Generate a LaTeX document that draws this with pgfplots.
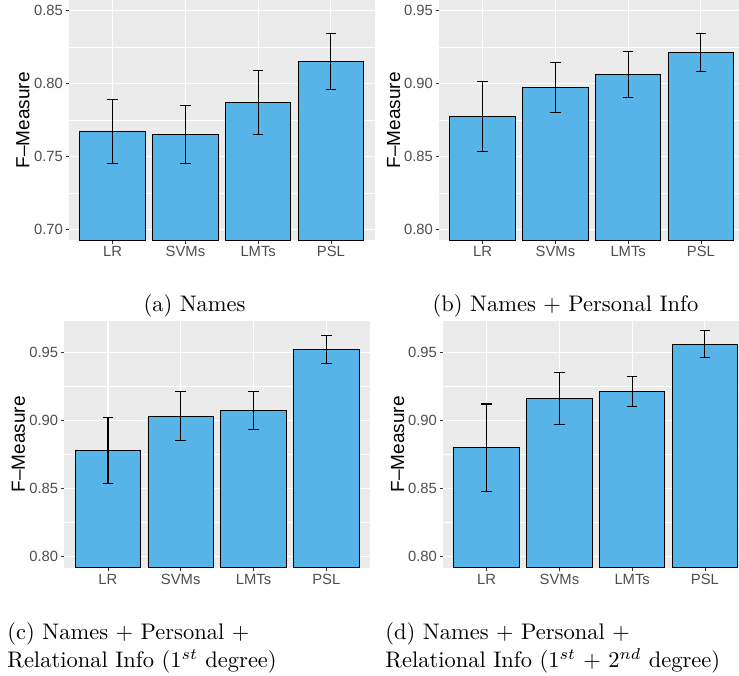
\documentclass[border=0pt]{standalone}
\usepackage{pgfplots}
\pgfplotsset{compat=1.18}
\usepackage{fontspec}
\newfontfamily\arial{Liberation Sans}
\definecolor{ggbg}{HTML}{EBEBEB}
\definecolor{ggblue}{HTML}{56B4E9}
\definecolor{gray30}{HTML}{4D4D4D}
\definecolor{gray20}{HTML}{333333}
\pgfplotsset{
  ggbar/.style={
    scale only axis, width=305.6pt,
    xmin=-0.6, xmax=3.6,
    xtick={0,1,2,3}, xticklabels={LR,SVMs,LMTs,PSL},
    axis background/.style={fill=ggbg},
    axis line style={draw=none},
    tick align=outside, tick pos=left,
    major tick length=3.5pt,
    minor tick length=0pt,
    tick style={color=gray20, line width=0.8pt},
    xmajorgrids, ymajorgrids, yminorgrids,
    minor y tick num=1,
    major grid style={white, line width=1.1pt},
    minor grid style={white, line width=0.55pt},
    ticklabel style={font=\arial\fontsize{14.8}{16}\selectfont, text=gray30},
    yticklabel style={inner sep=0pt, anchor=east, xshift=-2.4pt},
    xticklabel style={inner sep=0pt, anchor=north, yshift=-2.3pt},
    /pgf/number format/.cd, fixed, fixed zerofill, precision=2, assume math mode=true,
  },
  ggplot/.style={ybar, bar width=0.9, fill=ggblue, draw=black, line width=0.9pt,
    error bars/.cd, y dir=both, y explicit,
    error bar style={line width=1.1pt, black},
    error mark options={rotate=90, mark size=5.3pt, line width=1.1pt, black}},
}
\pgfplotstableread{
x y e
0 0.767 0.022
1 0.765 0.020
2 0.787 0.022
3 0.815 0.019
}\dataA
\pgfplotstableread{
x y e
0 0.877 0.024
1 0.897 0.017
2 0.906 0.016
3 0.921 0.013
}\dataB
\pgfplotstableread{
x y e
0 0.878 0.024
1 0.903 0.018
2 0.907 0.014
3 0.952 0.010
}\dataC
\pgfplotstableread{
x y e
0 0.880 0.032
1 0.916 0.019
2 0.921 0.011
3 0.956 0.010
}\dataD
\begin{document}
\begin{tikzpicture}[x=1pt,y=1pt]
\useasboundingbox (0,0) rectangle (739,676);
\clip (0,0) rectangle (739,676);
% (a)
\begin{axis}[ggbar, at={(69pt,435.75pt)}, anchor=south west, height=240.9pt,
  ymin=0.6925, ymax=0.8575, ytick={0.70,0.75,0.80,0.85}]
\addplot[ggplot] table[x=x,y=y,y error=e]{\dataA};
\end{axis}
% (b)
\begin{axis}[ggbar, at={(439pt,435.75pt)}, anchor=south west, height=240.9pt,
  ymin=0.7925, ymax=0.9575, ytick={0.80,0.85,0.90,0.95}]
\addplot[ggplot] table[x=x,y=y,y error=e]{\dataB};
\end{axis}
% (c)
\begin{axis}[ggbar, at={(64.3pt,108.1pt)}, anchor=south west, height=247.3pt,
  ymin=0.79175, ymax=0.97325, ytick={0.80,0.85,0.90,0.95}]
\addplot[ggplot] table[x=x,y=y,y error=e]{\dataC};
\end{axis}
% (d)
\begin{axis}[ggbar, at={(443pt,108.1pt)}, anchor=south west, height=247.3pt,
  ymin=0.79175, ymax=0.97325, ytick={0.80,0.85,0.90,0.95}]
\addplot[ggplot] table[x=x,y=y,y error=e]{\dataD};
\end{axis}
% y axis titles
\begin{scope}[every node/.style={rotate=90, anchor=base, inner sep=0pt, font=\arial\fontsize{19}{21}\selectfont}]
\node at (29.3,555.7) {F–Measure};
\node at (400,555.7) {F–Measure};
\node at (25,231.75) {F–Measure};
\node at (404,231.75) {F–Measure};
\end{scope}
% captions
\begin{scope}[every node/.style={inner sep=0pt, scale=2.25, font=\fontsize{10}{12}\selectfont}]
\node[anchor=base] at (194.5,364) {(a) Names};
\node[anchor=base] at (565.5,364) {(b) Names + Personal Info};
\node[anchor=base west] at (7,36.3) {(c) Names + Personal +};
\node[anchor=base west] at (7,8) {Relational Info (1$^{st}$ degree)};
\node[anchor=base west] at (385,36.3) {(d) Names + Personal +};
\node[anchor=base west] at (385,8) {Relational Info (1$^{st}$ + 2$^{nd}$ degree)};
\end{scope}
\end{tikzpicture}
\end{document}
